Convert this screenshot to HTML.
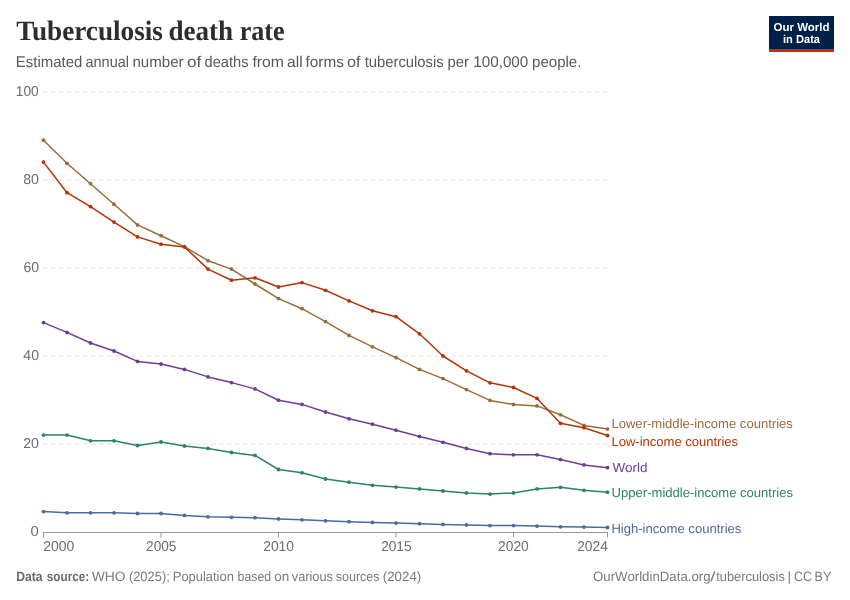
<!DOCTYPE html>
<html><head><meta charset="utf-8"><title>Tuberculosis death rate</title>
<style>
html,body{margin:0;padding:0;background:#ffffff;}
svg{display:block;font-family:"Liberation Sans",sans-serif;will-change:transform;-webkit-font-smoothing:antialiased;text-rendering:geometricPrecision;}
.serif{font-family:"Liberation Serif",serif;}
</style></head><body>
<svg width="850" height="600" viewBox="0 0 850 600">
<rect width="850" height="600" fill="#ffffff"/>
<text class="serif" x="16.26" y="40" font-size="28" font-weight="bold" fill="#2d2d2d" textLength="146.71" lengthAdjust="spacingAndGlyphs">Tuberculosis</text>
<text class="serif" x="168.38" y="40" font-size="28" font-weight="bold" fill="#2d2d2d" textLength="64.74" lengthAdjust="spacingAndGlyphs">death</text>
<text class="serif" x="239.66" y="40" font-size="28" font-weight="bold" fill="#2d2d2d" textLength="44.95" lengthAdjust="spacingAndGlyphs">rate</text>

<text x="15.86" y="66.8" font-size="15.5" font-weight="normal" fill="#595959" textLength="66.39" lengthAdjust="spacingAndGlyphs">Estimated</text>
<text x="85.51" y="66.8" font-size="15.5" font-weight="normal" fill="#595959" textLength="43.46" lengthAdjust="spacingAndGlyphs">annual</text>
<text x="132.49" y="66.8" font-size="15.5" font-weight="normal" fill="#595959" textLength="51.11" lengthAdjust="spacingAndGlyphs">number</text>
<text x="187.14" y="66.8" font-size="15.5" font-weight="normal" fill="#595959" textLength="14.25" lengthAdjust="spacingAndGlyphs">of</text>
<text x="204.58" y="66.8" font-size="15.5" font-weight="normal" fill="#595959" textLength="43.99" lengthAdjust="spacingAndGlyphs">deaths</text>
<text x="252.45" y="66.8" font-size="15.5" font-weight="normal" fill="#595959" textLength="31.47" lengthAdjust="spacingAndGlyphs">from</text>
<text x="287.08" y="66.8" font-size="15.5" font-weight="normal" fill="#595959" textLength="15.51" lengthAdjust="spacingAndGlyphs">all</text>
<text x="305.49" y="66.8" font-size="15.5" font-weight="normal" fill="#595959" textLength="38.37" lengthAdjust="spacingAndGlyphs">forms</text>
<text x="347.07" y="66.8" font-size="15.5" font-weight="normal" fill="#595959" textLength="13.54" lengthAdjust="spacingAndGlyphs">of</text>
<text x="364.72" y="66.8" font-size="15.5" font-weight="normal" fill="#595959" textLength="78.86" lengthAdjust="spacingAndGlyphs">tuberculosis</text>
<text x="447.45" y="66.8" font-size="15.5" font-weight="normal" fill="#595959" textLength="21.45" lengthAdjust="spacingAndGlyphs">per</text>
<text x="473.26" y="66.8" font-size="15.5" font-weight="normal" fill="#595959" textLength="55.07" lengthAdjust="spacingAndGlyphs">100,000</text>
<text x="532.09" y="66.8" font-size="15.5" font-weight="normal" fill="#595959" textLength="49.31" lengthAdjust="spacingAndGlyphs">people.</text>

<g id="logo">
<rect x="769" y="16" width="65" height="36" fill="#002147"/>
<rect x="769" y="49" width="65" height="3" fill="#ce261e"/>
<text x="801.5" y="30.5" text-anchor="middle" font-size="11.5" font-weight="bold" fill="#ffffff" textLength="56" lengthAdjust="spacingAndGlyphs">Our World</text>
<text x="801.5" y="42.5" text-anchor="middle" font-size="11.5" font-weight="bold" fill="#ffffff" textLength="37" lengthAdjust="spacingAndGlyphs">in Data</text>
</g>
<line x1="43.5" x2="607.5" y1="92" y2="92" stroke="#dddddd" stroke-width="1" stroke-dasharray="4,4"/>
<line x1="43.5" x2="607.5" y1="180" y2="180" stroke="#dddddd" stroke-width="1" stroke-dasharray="4,4"/>
<line x1="43.5" x2="607.5" y1="268" y2="268" stroke="#dddddd" stroke-width="1" stroke-dasharray="4,4"/>
<line x1="43.5" x2="607.5" y1="356" y2="356" stroke="#dddddd" stroke-width="1" stroke-dasharray="4,4"/>
<line x1="43.5" x2="607.5" y1="444" y2="444" stroke="#dddddd" stroke-width="1" stroke-dasharray="4,4"/>

<line x1="43" x2="608" y1="532.5" y2="532.5" stroke="#999999" stroke-width="1"/>
<line x1="43.5" x2="43.5" y1="532" y2="537.5" stroke="#999999" stroke-width="1"/>
<line x1="161" x2="161" y1="532" y2="537.5" stroke="#999999" stroke-width="1"/>
<line x1="278.5" x2="278.5" y1="532" y2="537.5" stroke="#999999" stroke-width="1"/>
<line x1="396" x2="396" y1="532" y2="537.5" stroke="#999999" stroke-width="1"/>
<line x1="513.5" x2="513.5" y1="532" y2="537.5" stroke="#999999" stroke-width="1"/>
<line x1="607.5" x2="607.5" y1="532" y2="537.5" stroke="#999999" stroke-width="1"/>

<text x="15.8" y="96.1" font-size="14.2" font-weight="normal" fill="#6c6c6c" textLength="22.91" lengthAdjust="spacingAndGlyphs">100</text>
<text x="23.2" y="184.1" font-size="14.2" font-weight="normal" fill="#6c6c6c" textLength="15.81" lengthAdjust="spacingAndGlyphs">80</text>
<text x="23.38" y="272.1" font-size="14.2" font-weight="normal" fill="#6c6c6c" textLength="15.59" lengthAdjust="spacingAndGlyphs">60</text>
<text x="23.37" y="360.1" font-size="14.2" font-weight="normal" fill="#6c6c6c" textLength="15.64" lengthAdjust="spacingAndGlyphs">40</text>
<text x="23.18" y="448.1" font-size="14.2" font-weight="normal" fill="#6c6c6c" textLength="15.81" lengthAdjust="spacingAndGlyphs">20</text>
<text x="30.52" y="536.4" font-size="14.2" font-weight="normal" fill="#6c6c6c" textLength="8.22" lengthAdjust="spacingAndGlyphs">0</text>

<text x="43.2" y="551" font-size="14.2" font-weight="normal" fill="#6c6c6c" textLength="31.11" lengthAdjust="spacingAndGlyphs">2000</text>
<text x="146.06" y="551" font-size="14.2" font-weight="normal" fill="#6c6c6c" textLength="30.41" lengthAdjust="spacingAndGlyphs">2005</text>
<text x="263.2" y="551" font-size="14.2" font-weight="normal" fill="#6c6c6c" textLength="30.81" lengthAdjust="spacingAndGlyphs">2010</text>
<text x="381.15" y="551" font-size="14.2" font-weight="normal" fill="#6c6c6c" textLength="30.37" lengthAdjust="spacingAndGlyphs">2015</text>
<text x="498.12" y="551" font-size="14.2" font-weight="normal" fill="#6c6c6c" textLength="30.67" lengthAdjust="spacingAndGlyphs">2020</text>
<text x="577.16" y="551" font-size="14.2" font-weight="normal" fill="#6c6c6c" textLength="30.68" lengthAdjust="spacingAndGlyphs">2024</text>

<polyline fill="none" stroke="#4C6A9C" stroke-width="1.5" stroke-linejoin="round" stroke-linecap="round" points="43.5,511.6 67.0,512.8 90.5,512.8 114.0,512.8 137.5,513.5 161.0,513.5 184.5,515.4 208.0,516.8 231.5,517.3 255.0,517.7 278.5,518.9 302.0,519.8 325.5,520.8 349.0,521.7 372.5,522.4 396.0,523.1 419.5,523.7 443.0,524.4 466.5,524.9 490.0,525.6 513.5,525.6 537.0,526.1 560.5,526.8 584.0,527.1 607.5,527.5"/>
<circle cx="43.5" cy="511.6" r="1.9" fill="#4C6A9C"/><circle cx="67.0" cy="512.8" r="1.9" fill="#4C6A9C"/><circle cx="90.5" cy="512.8" r="1.9" fill="#4C6A9C"/><circle cx="114.0" cy="512.8" r="1.9" fill="#4C6A9C"/><circle cx="137.5" cy="513.5" r="1.9" fill="#4C6A9C"/><circle cx="161.0" cy="513.5" r="1.9" fill="#4C6A9C"/><circle cx="184.5" cy="515.4" r="1.9" fill="#4C6A9C"/><circle cx="208.0" cy="516.8" r="1.9" fill="#4C6A9C"/><circle cx="231.5" cy="517.3" r="1.9" fill="#4C6A9C"/><circle cx="255.0" cy="517.7" r="1.9" fill="#4C6A9C"/><circle cx="278.5" cy="518.9" r="1.9" fill="#4C6A9C"/><circle cx="302.0" cy="519.8" r="1.9" fill="#4C6A9C"/><circle cx="325.5" cy="520.8" r="1.9" fill="#4C6A9C"/><circle cx="349.0" cy="521.7" r="1.9" fill="#4C6A9C"/><circle cx="372.5" cy="522.4" r="1.9" fill="#4C6A9C"/><circle cx="396.0" cy="523.1" r="1.9" fill="#4C6A9C"/><circle cx="419.5" cy="523.7" r="1.9" fill="#4C6A9C"/><circle cx="443.0" cy="524.4" r="1.9" fill="#4C6A9C"/><circle cx="466.5" cy="524.9" r="1.9" fill="#4C6A9C"/><circle cx="490.0" cy="525.6" r="1.9" fill="#4C6A9C"/><circle cx="513.5" cy="525.6" r="1.9" fill="#4C6A9C"/><circle cx="537.0" cy="526.1" r="1.9" fill="#4C6A9C"/><circle cx="560.5" cy="526.8" r="1.9" fill="#4C6A9C"/><circle cx="584.0" cy="527.1" r="1.9" fill="#4C6A9C"/><circle cx="607.5" cy="527.5" r="1.9" fill="#4C6A9C"/>
<polyline fill="none" stroke="#2C8465" stroke-width="1.5" stroke-linejoin="round" stroke-linecap="round" points="43.5,435.1 67.0,435.1 90.5,440.8 114.0,440.8 137.5,445.5 161.0,442.0 184.5,446.0 208.0,448.4 231.5,452.5 255.0,455.4 278.5,469.5 302.0,472.8 325.5,479.0 349.0,482.2 372.5,485.3 396.0,487.1 419.5,488.9 443.0,491.0 466.5,492.9 490.0,494.1 513.5,492.9 537.0,488.9 560.5,487.3 584.0,490.3 607.5,492.2"/>
<circle cx="43.5" cy="435.1" r="1.9" fill="#2C8465"/><circle cx="67.0" cy="435.1" r="1.9" fill="#2C8465"/><circle cx="90.5" cy="440.8" r="1.9" fill="#2C8465"/><circle cx="114.0" cy="440.8" r="1.9" fill="#2C8465"/><circle cx="137.5" cy="445.5" r="1.9" fill="#2C8465"/><circle cx="161.0" cy="442.0" r="1.9" fill="#2C8465"/><circle cx="184.5" cy="446.0" r="1.9" fill="#2C8465"/><circle cx="208.0" cy="448.4" r="1.9" fill="#2C8465"/><circle cx="231.5" cy="452.5" r="1.9" fill="#2C8465"/><circle cx="255.0" cy="455.4" r="1.9" fill="#2C8465"/><circle cx="278.5" cy="469.5" r="1.9" fill="#2C8465"/><circle cx="302.0" cy="472.8" r="1.9" fill="#2C8465"/><circle cx="325.5" cy="479.0" r="1.9" fill="#2C8465"/><circle cx="349.0" cy="482.2" r="1.9" fill="#2C8465"/><circle cx="372.5" cy="485.3" r="1.9" fill="#2C8465"/><circle cx="396.0" cy="487.1" r="1.9" fill="#2C8465"/><circle cx="419.5" cy="488.9" r="1.9" fill="#2C8465"/><circle cx="443.0" cy="491.0" r="1.9" fill="#2C8465"/><circle cx="466.5" cy="492.9" r="1.9" fill="#2C8465"/><circle cx="490.0" cy="494.1" r="1.9" fill="#2C8465"/><circle cx="513.5" cy="492.9" r="1.9" fill="#2C8465"/><circle cx="537.0" cy="488.9" r="1.9" fill="#2C8465"/><circle cx="560.5" cy="487.3" r="1.9" fill="#2C8465"/><circle cx="584.0" cy="490.3" r="1.9" fill="#2C8465"/><circle cx="607.5" cy="492.2" r="1.9" fill="#2C8465"/>
<polyline fill="none" stroke="#6D3E91" stroke-width="1.5" stroke-linejoin="round" stroke-linecap="round" points="43.5,322.6 67.0,332.4 90.5,343.0 114.0,351.0 137.5,361.4 161.0,364.0 184.5,369.4 208.0,376.9 231.5,382.6 255.0,388.9 278.5,400.2 302.0,404.4 325.5,412.0 349.0,418.8 372.5,424.2 396.0,430.2 419.5,436.4 443.0,442.3 466.5,448.4 490.0,453.7 513.5,454.8 537.0,454.8 560.5,459.6 584.0,464.9 607.5,467.7"/>
<circle cx="43.5" cy="322.6" r="1.9" fill="#6D3E91"/><circle cx="67.0" cy="332.4" r="1.9" fill="#6D3E91"/><circle cx="90.5" cy="343.0" r="1.9" fill="#6D3E91"/><circle cx="114.0" cy="351.0" r="1.9" fill="#6D3E91"/><circle cx="137.5" cy="361.4" r="1.9" fill="#6D3E91"/><circle cx="161.0" cy="364.0" r="1.9" fill="#6D3E91"/><circle cx="184.5" cy="369.4" r="1.9" fill="#6D3E91"/><circle cx="208.0" cy="376.9" r="1.9" fill="#6D3E91"/><circle cx="231.5" cy="382.6" r="1.9" fill="#6D3E91"/><circle cx="255.0" cy="388.9" r="1.9" fill="#6D3E91"/><circle cx="278.5" cy="400.2" r="1.9" fill="#6D3E91"/><circle cx="302.0" cy="404.4" r="1.9" fill="#6D3E91"/><circle cx="325.5" cy="412.0" r="1.9" fill="#6D3E91"/><circle cx="349.0" cy="418.8" r="1.9" fill="#6D3E91"/><circle cx="372.5" cy="424.2" r="1.9" fill="#6D3E91"/><circle cx="396.0" cy="430.2" r="1.9" fill="#6D3E91"/><circle cx="419.5" cy="436.4" r="1.9" fill="#6D3E91"/><circle cx="443.0" cy="442.3" r="1.9" fill="#6D3E91"/><circle cx="466.5" cy="448.4" r="1.9" fill="#6D3E91"/><circle cx="490.0" cy="453.7" r="1.9" fill="#6D3E91"/><circle cx="513.5" cy="454.8" r="1.9" fill="#6D3E91"/><circle cx="537.0" cy="454.8" r="1.9" fill="#6D3E91"/><circle cx="560.5" cy="459.6" r="1.9" fill="#6D3E91"/><circle cx="584.0" cy="464.9" r="1.9" fill="#6D3E91"/><circle cx="607.5" cy="467.7" r="1.9" fill="#6D3E91"/>
<polyline fill="none" stroke="#996D39" stroke-width="1.5" stroke-linejoin="round" stroke-linecap="round" points="43.5,140.2 67.0,163.3 90.5,183.7 114.0,204.2 137.5,224.9 161.0,235.7 184.5,246.6 208.0,260.7 231.5,269.1 255.0,284.0 278.5,298.6 302.0,308.7 325.5,321.6 349.0,335.4 372.5,346.8 396.0,357.6 419.5,369.4 443.0,378.6 466.5,389.6 490.0,400.4 513.5,404.5 537.0,405.9 560.5,414.8 584.0,425.4 607.5,429.1"/>
<circle cx="43.5" cy="140.2" r="1.9" fill="#996D39"/><circle cx="67.0" cy="163.3" r="1.9" fill="#996D39"/><circle cx="90.5" cy="183.7" r="1.9" fill="#996D39"/><circle cx="114.0" cy="204.2" r="1.9" fill="#996D39"/><circle cx="137.5" cy="224.9" r="1.9" fill="#996D39"/><circle cx="161.0" cy="235.7" r="1.9" fill="#996D39"/><circle cx="184.5" cy="246.6" r="1.9" fill="#996D39"/><circle cx="208.0" cy="260.7" r="1.9" fill="#996D39"/><circle cx="231.5" cy="269.1" r="1.9" fill="#996D39"/><circle cx="255.0" cy="284.0" r="1.9" fill="#996D39"/><circle cx="278.5" cy="298.6" r="1.9" fill="#996D39"/><circle cx="302.0" cy="308.7" r="1.9" fill="#996D39"/><circle cx="325.5" cy="321.6" r="1.9" fill="#996D39"/><circle cx="349.0" cy="335.4" r="1.9" fill="#996D39"/><circle cx="372.5" cy="346.8" r="1.9" fill="#996D39"/><circle cx="396.0" cy="357.6" r="1.9" fill="#996D39"/><circle cx="419.5" cy="369.4" r="1.9" fill="#996D39"/><circle cx="443.0" cy="378.6" r="1.9" fill="#996D39"/><circle cx="466.5" cy="389.6" r="1.9" fill="#996D39"/><circle cx="490.0" cy="400.4" r="1.9" fill="#996D39"/><circle cx="513.5" cy="404.5" r="1.9" fill="#996D39"/><circle cx="537.0" cy="405.9" r="1.9" fill="#996D39"/><circle cx="560.5" cy="414.8" r="1.9" fill="#996D39"/><circle cx="584.0" cy="425.4" r="1.9" fill="#996D39"/><circle cx="607.5" cy="429.1" r="1.9" fill="#996D39"/>
<polyline fill="none" stroke="#B13507" stroke-width="1.5" stroke-linejoin="round" stroke-linecap="round" points="43.5,162.1 67.0,192.7 90.5,206.6 114.0,222.1 137.5,236.9 161.0,244.2 184.5,246.9 208.0,269.1 231.5,280.2 255.0,277.8 278.5,287.0 302.0,282.6 325.5,290.3 349.0,300.9 372.5,310.8 396.0,316.7 419.5,333.8 443.0,356.0 466.5,370.8 490.0,382.8 513.5,387.5 537.0,398.4 560.5,423.3 584.0,427.7 607.5,435.5"/>
<circle cx="43.5" cy="162.1" r="1.9" fill="#B13507"/><circle cx="67.0" cy="192.7" r="1.9" fill="#B13507"/><circle cx="90.5" cy="206.6" r="1.9" fill="#B13507"/><circle cx="114.0" cy="222.1" r="1.9" fill="#B13507"/><circle cx="137.5" cy="236.9" r="1.9" fill="#B13507"/><circle cx="161.0" cy="244.2" r="1.9" fill="#B13507"/><circle cx="184.5" cy="246.9" r="1.9" fill="#B13507"/><circle cx="208.0" cy="269.1" r="1.9" fill="#B13507"/><circle cx="231.5" cy="280.2" r="1.9" fill="#B13507"/><circle cx="255.0" cy="277.8" r="1.9" fill="#B13507"/><circle cx="278.5" cy="287.0" r="1.9" fill="#B13507"/><circle cx="302.0" cy="282.6" r="1.9" fill="#B13507"/><circle cx="325.5" cy="290.3" r="1.9" fill="#B13507"/><circle cx="349.0" cy="300.9" r="1.9" fill="#B13507"/><circle cx="372.5" cy="310.8" r="1.9" fill="#B13507"/><circle cx="396.0" cy="316.7" r="1.9" fill="#B13507"/><circle cx="419.5" cy="333.8" r="1.9" fill="#B13507"/><circle cx="443.0" cy="356.0" r="1.9" fill="#B13507"/><circle cx="466.5" cy="370.8" r="1.9" fill="#B13507"/><circle cx="490.0" cy="382.8" r="1.9" fill="#B13507"/><circle cx="513.5" cy="387.5" r="1.9" fill="#B13507"/><circle cx="537.0" cy="398.4" r="1.9" fill="#B13507"/><circle cx="560.5" cy="423.3" r="1.9" fill="#B13507"/><circle cx="584.0" cy="427.7" r="1.9" fill="#B13507"/><circle cx="607.5" cy="435.5" r="1.9" fill="#B13507"/>

<text x="611.42" y="428" font-size="13" font-weight="normal" fill="#996D39" textLength="181.46" lengthAdjust="spacingAndGlyphs">Lower-middle-income countries</text>
<text x="611.43" y="446" font-size="13" font-weight="normal" fill="#B13507" textLength="126.67" lengthAdjust="spacingAndGlyphs">Low-income countries</text>
<text x="612.53" y="472" font-size="13" font-weight="normal" fill="#6D3E91" textLength="35.02" lengthAdjust="spacingAndGlyphs">World</text>
<text x="611.63" y="497" font-size="13" font-weight="normal" fill="#2C8465" textLength="181.39" lengthAdjust="spacingAndGlyphs">Upper-middle-income countries</text>
<text x="611.42" y="532.7" font-size="13" font-weight="normal" fill="#4C6A9C" textLength="129.96" lengthAdjust="spacingAndGlyphs">High-income countries</text>

<text x="16.14" y="581" font-size="13.5" font-weight="bold" fill="#6a6a6a" textLength="26.42" lengthAdjust="spacingAndGlyphs">Data</text>
<text x="46.78" y="581" font-size="13.5" font-weight="bold" fill="#6a6a6a" textLength="42.4" lengthAdjust="spacingAndGlyphs">source:</text>
<text x="91.65" y="581" font-size="13.5" font-weight="normal" fill="#7a7a7a" textLength="33.87" lengthAdjust="spacingAndGlyphs">WHO</text>
<text x="128.9" y="581" font-size="13.5" font-weight="normal" fill="#7a7a7a" textLength="40.88" lengthAdjust="spacingAndGlyphs">(2025);</text>
<text x="172.8" y="581" font-size="13.5" font-weight="normal" fill="#7a7a7a" textLength="61.03" lengthAdjust="spacingAndGlyphs">Population</text>
<text x="237.61" y="581" font-size="13.5" font-weight="normal" fill="#7a7a7a" textLength="33.57" lengthAdjust="spacingAndGlyphs">based</text>
<text x="274.2" y="581" font-size="13.5" font-weight="normal" fill="#7a7a7a" textLength="15.05" lengthAdjust="spacingAndGlyphs">on</text>
<text x="291.78" y="581" font-size="13.5" font-weight="normal" fill="#7a7a7a" textLength="41.12" lengthAdjust="spacingAndGlyphs">various</text>
<text x="335.84" y="581" font-size="13.5" font-weight="normal" fill="#7a7a7a" textLength="43.74" lengthAdjust="spacingAndGlyphs">sources</text>
<text x="382.79" y="581" font-size="13.5" font-weight="normal" fill="#7a7a7a" textLength="38.44" lengthAdjust="spacingAndGlyphs">(2024)</text>
<text x="593.02" y="581" font-size="13.5" font-weight="normal" fill="#7a7a7a" textLength="117.63" lengthAdjust="spacingAndGlyphs">OurWorldinData.org</text>
<text x="710.31" y="581" font-size="13.5" font-weight="normal" fill="#7a7a7a" textLength="5.29" lengthAdjust="spacingAndGlyphs">/</text>
<text x="716.26" y="581" font-size="13.5" font-weight="normal" fill="#7a7a7a" textLength="68.59" lengthAdjust="spacingAndGlyphs">tuberculosis</text>
<text x="787.55" y="581" font-size="13.5" fill="#7a7a7a">|</text>
<text x="794.0" y="581" font-size="13.5" font-weight="normal" fill="#7a7a7a" textLength="18.21" lengthAdjust="spacingAndGlyphs">CC</text>
<text x="814.62" y="581" font-size="13.5" font-weight="normal" fill="#7a7a7a" textLength="16.68" lengthAdjust="spacingAndGlyphs">BY</text>

</svg>
</body></html>
